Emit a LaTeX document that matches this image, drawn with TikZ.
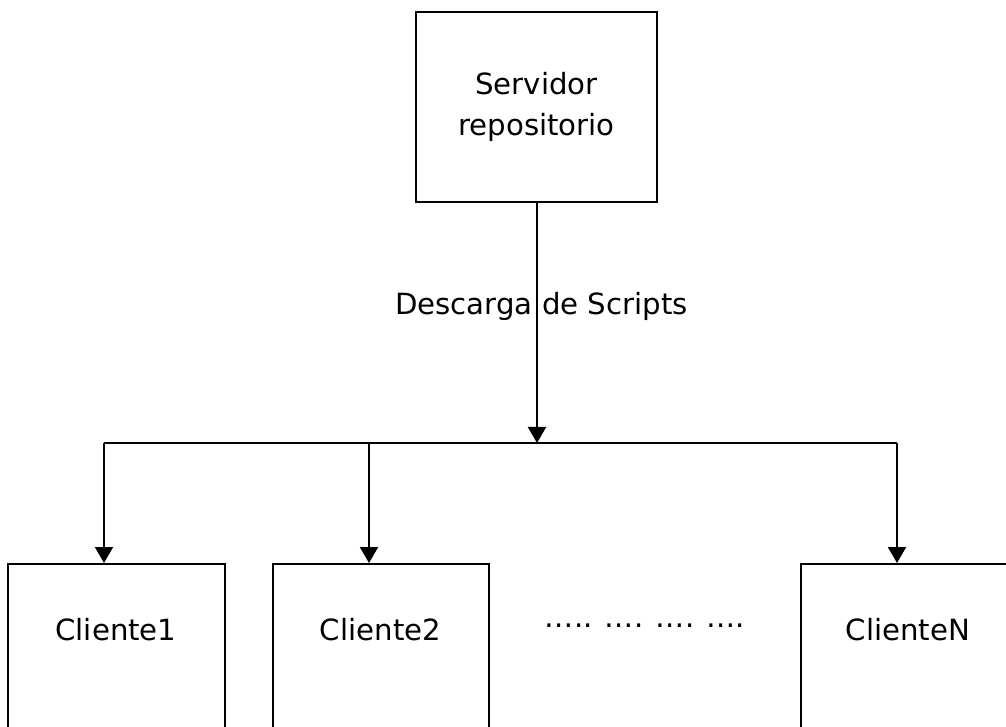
\documentclass[tikz,border=0pt]{standalone}
\usepackage{fontspec}
\setmainfont{DejaVu Sans}
\usetikzlibrary{arrows.meta}

\begin{document}
\begin{tikzpicture}[x=1pt,y=1pt,
    caja/.style={draw=black, line width=2pt, minimum width=#1, anchor=north},
    texto/.style={font=\fontsize{29.2}{41}\selectfont, anchor=base},
    flecha/.style={line width=2pt, -{Triangle[length=16pt,width=18pt]}}]
      \useasboundingbox (0,0) rectangle (1006,726);
      \clip (0,0) rectangle (1006,726);

      % servidor
      \node[caja=241pt, minimum height=190pt, anchor=center, align=center,
            font=\fontsize{29.2}{41}\selectfont] (servidor) at (536.5,619) {Servidor\\repositorio};

      % clientes
      \node[caja=217pt, minimum height=190pt] (c1) at (116.5,163) {};
      \node[caja=216pt, minimum height=190pt] (c2) at (381,163) {};
      \node[caja=240pt, minimum height=190pt] (cn) at (921,163) {};
      \node[texto] (t1) at (116,86) {Cliente1};
      \node[texto] (t2) at (380.5,86) {Cliente2};
      \node[texto] (tn) at (908,86) {ClienteN};
      \node[texto] (puntos) at (645,99) {….. …. …. ….};

      % bus
      \coordinate (j) at (537,283);
      \coordinate (b1) at (104,283);
      \coordinate (b2) at (369,283);
      \coordinate (bn) at (897,283);
      \draw[flecha] (servidor.south -| j) -- (j);
      \draw[line width=2pt] (b1) -- (bn);
      \draw[flecha] (b1) -- (b1 |- c1.north);
      \draw[flecha] (b2) -- (b2 |- c2.north);
      \draw[flecha] (bn) -- (bn |- cn.north);

      \node[texto] (descarga) at (541.5,411) {Descarga de Scripts};
\end{tikzpicture}
\end{document}
